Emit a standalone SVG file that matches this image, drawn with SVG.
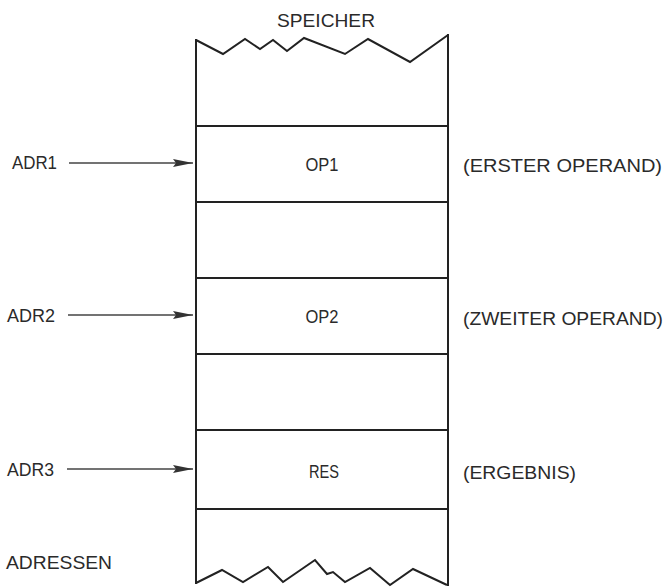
<svg xmlns="http://www.w3.org/2000/svg" width="669" height="587" viewBox="0 0 669 587">
<style>
.t{font-family:"Liberation Sans",Arial,sans-serif;font-size:18px;fill:#2a2a2a}
.ln{stroke:#222;stroke-width:2;fill:none;stroke-linejoin:miter}
.ar{stroke:#444;stroke-width:1.6;fill:none}
</style>
<defs>
<marker id="ah" markerUnits="userSpaceOnUse" markerWidth="22" markerHeight="10" refX="20" refY="5" orient="auto">
<path d="M0,1 L20,5 L0,9 L3,5 Z" fill="#333"/>
</marker>
</defs>
<rect width="669" height="587" fill="#fff"/>
<g id="speicher">
<text class="t" x="326" y="27" text-anchor="middle" textLength="98" lengthAdjust="spacingAndGlyphs">SPEICHER</text>
<path class="ln" d="M196,40 L223,54 L245,39 L260,49 L273,40 L287,51 L304,38 L345,54 L368,39 L410,62 L448,35"/>
<path class="ln" d="M196,583 L222,570 L243,582 L268,567 L283,582 L315,560 L327,574 L333,572 L345,582 L370,568 L390,585 L413,569 L447,585"/>
<line class="ln" x1="196" y1="39" x2="196" y2="584"/>
<line class="ln" x1="448" y1="34" x2="448" y2="586"/>
<line class="ln" x1="196" y1="126" x2="448" y2="126"/>
<line class="ln" x1="196" y1="202" x2="448" y2="202"/>
<line class="ln" x1="196" y1="278" x2="448" y2="278"/>
<line class="ln" x1="196" y1="354" x2="448" y2="354"/>
<line class="ln" x1="196" y1="430" x2="448" y2="430"/>
<line class="ln" x1="196" y1="509" x2="448" y2="509"/>
</g>
<g id="op1">
<text class="t" x="322" y="171" text-anchor="middle" textLength="33" lengthAdjust="spacingAndGlyphs">OP1</text>
<text class="t" x="463" y="172" textLength="199" lengthAdjust="spacingAndGlyphs">(ERSTER OPERAND)</text>
</g>
<g id="op2">
<text class="t" x="322" y="323" text-anchor="middle" textLength="33" lengthAdjust="spacingAndGlyphs">OP2</text>
<text class="t" x="463" y="325" textLength="200" lengthAdjust="spacingAndGlyphs">(ZWEITER OPERAND)</text>
</g>
<g id="res">
<text class="t" x="324" y="478" text-anchor="middle" textLength="30" lengthAdjust="spacingAndGlyphs">RES</text>
<text class="t" x="463" y="479" textLength="113" lengthAdjust="spacingAndGlyphs">(ERGEBNIS)</text>
</g>
<g id="adr1"><text class="t" x="12" y="169" textLength="45" lengthAdjust="spacingAndGlyphs">ADR1</text></g>
<g id="adr2"><text class="t" x="7" y="322" textLength="48" lengthAdjust="spacingAndGlyphs">ADR2</text></g>
<g id="adr3"><text class="t" x="7" y="476" textLength="47" lengthAdjust="spacingAndGlyphs">ADR3</text></g>
<g id="adressen"><text class="t" x="6" y="569" textLength="106" lengthAdjust="spacingAndGlyphs">ADRESSEN</text></g>
<g id="connectors">
<line class="ar" x1="69" y1="163" x2="193" y2="163" marker-end="url(#ah)"/>
<line class="ar" x1="68" y1="315" x2="193" y2="315" marker-end="url(#ah)"/>
<line class="ar" x1="67" y1="469" x2="193" y2="469" marker-end="url(#ah)"/>
</g>
</svg>
